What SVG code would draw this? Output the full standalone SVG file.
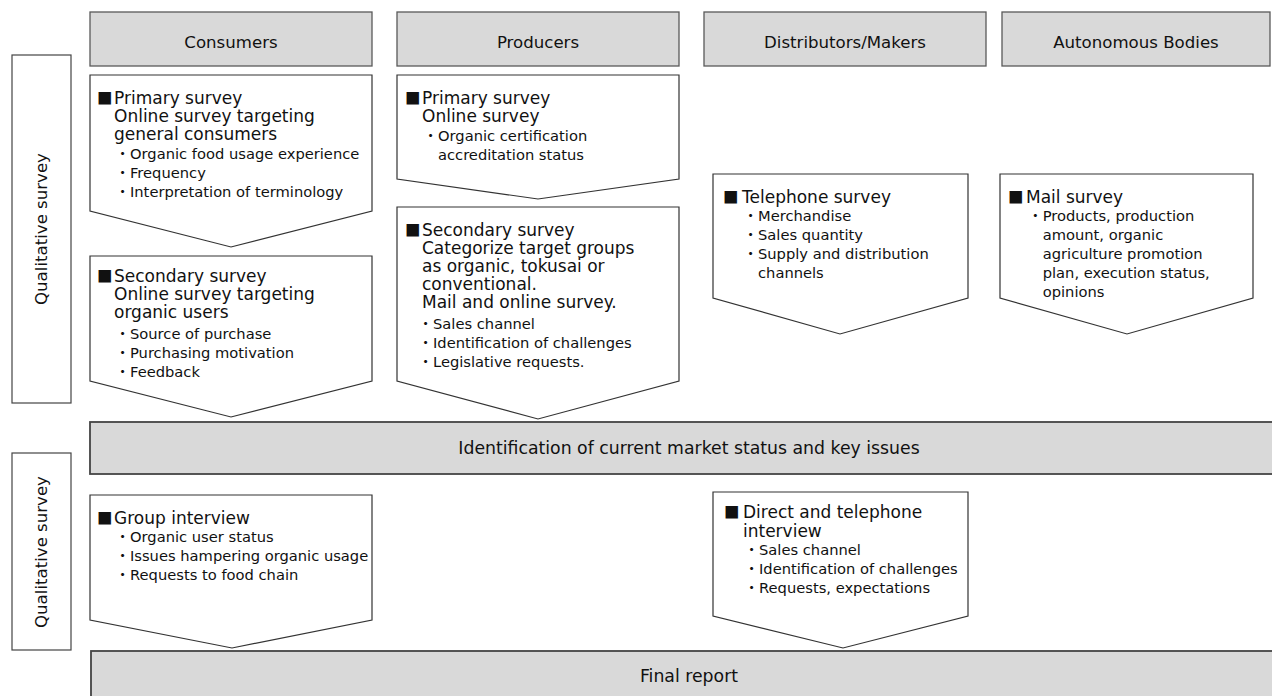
<svg xmlns="http://www.w3.org/2000/svg" width="1272" height="696" viewBox="0 0 1272 696">
<style>
text{font-family:"DejaVu Sans","Noto Sans CJK JP",sans-serif;fill:#111;}
.hdr{fill:#d9d9d9;stroke:#595959;stroke-width:1.3;}
.bar{fill:#d9d9d9;stroke:#444;stroke-width:1.8;}
.side{fill:#fff;stroke:#444;stroke-width:1.2;}
.pent{fill:#fff;stroke:#333;stroke-width:1.2;}
.ht{font-size:16.6px;text-anchor:middle;}
.hb{font-size:17.3px;text-anchor:middle;}
.h{font-size:17px;}
.b{font-size:14.7px;}
.sq{font-size:15.5px;font-family:"Noto Sans CJK JP","DejaVu Sans",sans-serif;}
</style>
<rect width="1272" height="696" fill="#fff"/>
<g id="connectors"/>
<g id="hdr-consumers"><rect class="hdr" x="90" y="12" width="282" height="54"/><text class="ht" x="231" y="48">Consumers</text></g>
<g id="hdr-producers"><rect class="hdr" x="397" y="12" width="282" height="54"/><text class="ht" x="538" y="48">Producers</text></g>
<g id="hdr-distributors"><rect class="hdr" x="704" y="12" width="282" height="54"/><text class="ht" x="845" y="48">Distributors/Makers</text></g>
<g id="hdr-autonomous"><rect class="hdr" x="1002" y="12" width="268" height="54"/><text class="ht" x="1136" y="48">Autonomous Bodies</text></g>

<g id="side-quant"><rect class="side" x="12" y="55" width="59" height="348"/><text class="ht" transform="translate(47,229) rotate(-90)">Qualitative survey</text></g>
<g id="side-qual"><rect class="side" x="12" y="453" width="59" height="197"/><text class="ht" transform="translate(47,552) rotate(-90)">Qualitative survey</text></g>

<g id="consumer-primary">
<path class="pent" d="M90,75 H372 V211 L231,247 L90,211 Z"/>
<text><tspan class="sq" x="97" y="104">■</tspan><tspan class="h" x="114" y="104">Primary survey</tspan><tspan class="h" x="114" y="122">Online survey targeting</tspan><tspan class="h" x="114" y="140">general consumers</tspan><tspan class="b" x="115.3" y="159">・Organic food usage experience</tspan><tspan class="b" x="115.3" y="178">・Frequency</tspan><tspan class="b" x="115.3" y="197">・Interpretation of terminology</tspan></text>
</g>

<g id="consumer-secondary">
<path class="pent" d="M90,256 H372 V381 L231,417 L90,381 Z"/>
<text><tspan class="sq" x="97" y="282">■</tspan><tspan class="h" x="114" y="282">Secondary survey</tspan><tspan class="h" x="114" y="300">Online survey targeting</tspan><tspan class="h" x="114" y="318">organic users</tspan><tspan class="b" x="115.3" y="339">・Source of purchase</tspan><tspan class="b" x="115.3" y="358">・Purchasing motivation</tspan><tspan class="b" x="115.3" y="377">・Feedback</tspan></text>
</g>

<g id="producer-primary">
<path class="pent" d="M397,75 H679 V179 L538,199 L397,179 Z"/>
<text><tspan class="sq" x="405" y="104">■</tspan><tspan class="h" x="422" y="104">Primary survey</tspan><tspan class="h" x="422" y="122">Online survey</tspan><tspan class="b" x="423.3" y="141">・Organic certification</tspan><tspan class="b" x="438" y="160">accreditation status</tspan></text>
</g>

<g id="producer-secondary">
<path class="pent" d="M397,207 H679 V381 L538,419 L397,381 Z"/>
<text><tspan class="sq" x="405" y="236">■</tspan><tspan class="h" x="422" y="236">Secondary survey</tspan><tspan class="h" x="422" y="254">Categorize target groups</tspan><tspan class="h" x="422" y="272">as organic, tokusai or</tspan><tspan class="h" x="422" y="290">conventional.</tspan><tspan class="h" x="422" y="308">Mail and online survey.</tspan><tspan class="b" x="418.3" y="329">・Sales channel</tspan><tspan class="b" x="418.3" y="348">・Identification of challenges</tspan><tspan class="b" x="418.3" y="367">・Legislative requests.</tspan></text>
</g>

<g id="distributor-telephone">
<path class="pent" d="M713,174 H968 V298 L840,334 L713,298 Z"/>
<text><tspan class="sq" x="723" y="203">■</tspan><tspan class="h" x="742" y="203">Telephone survey</tspan><tspan class="b" x="743.3" y="221">・Merchandise</tspan><tspan class="b" x="743.3" y="240">・Sales quantity</tspan><tspan class="b" x="743.3" y="259">・Supply and distribution</tspan><tspan class="b" x="758" y="278">channels</tspan></text>
</g>

<g id="autonomous-mail">
<path class="pent" d="M1000,174 H1253 V298 L1127,334 L1000,298 Z"/>
<text><tspan class="sq" x="1008" y="203">■</tspan><tspan class="h" x="1026" y="203">Mail survey</tspan><tspan class="b" x="1028" y="221">・Products, production</tspan><tspan class="b" x="1042.7" y="240">amount, organic</tspan><tspan class="b" x="1042.7" y="259">agriculture promotion</tspan><tspan class="b" x="1042.7" y="278">plan, execution status,</tspan><tspan class="b" x="1042.7" y="297">opinions</tspan></text>
</g>

<g id="identification">
<rect class="bar" x="90" y="422" width="1200" height="52"/>
<text class="hb" x="689" y="454">Identification of current market status and key issues</text>
</g>

<g id="group-interview">
<path class="pent" d="M90,495 H372 V620 L232,648 L90,620 Z"/>
<text><tspan class="sq" x="97" y="524">■</tspan><tspan class="h" x="114" y="524">Group interview</tspan><tspan class="b" x="115.3" y="542">・Organic user status</tspan><tspan class="b" x="115.3" y="561">・Issues hampering organic usage</tspan><tspan class="b" x="115.3" y="580">・Requests to food chain</tspan></text>
</g>

<g id="direct-interview">
<path class="pent" d="M713,492 H968 V616 L843,648 L713,616 Z"/>
<text><tspan class="sq" x="724" y="518">■</tspan><tspan class="h" x="743" y="518">Direct and telephone</tspan><tspan class="h" x="743" y="537">interview</tspan><tspan class="b" x="744.3" y="555">・Sales channel</tspan><tspan class="b" x="744.3" y="574">・Identification of challenges</tspan><tspan class="b" x="744.3" y="593">・Requests, expectations</tspan></text>
</g>

<g id="final-report">
<rect class="bar" x="91" y="651" width="1200" height="60"/>
<text class="hb" x="689" y="682">Final report</text>
</g>
</svg>
